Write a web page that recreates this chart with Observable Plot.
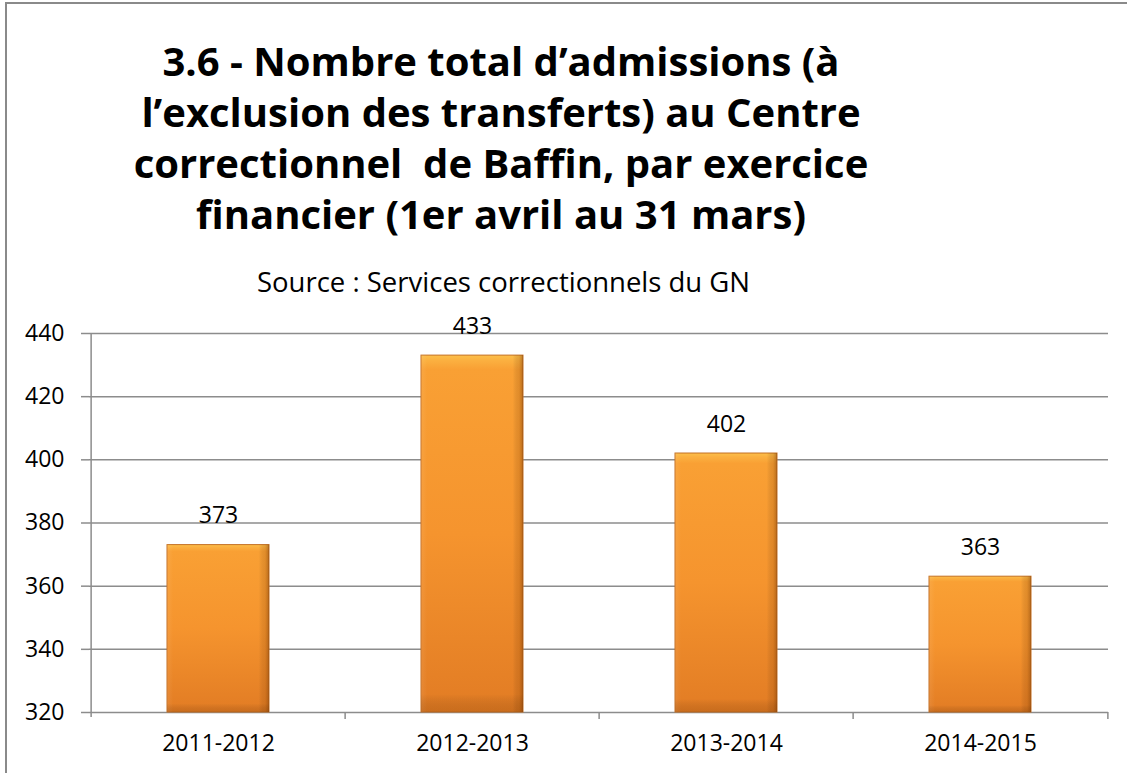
<!DOCTYPE html>
<html>
<head>
<meta charset="utf-8">
<script src="https://cdn.jsdelivr.net/npm/d3@7"></script>
<script src="https://cdn.jsdelivr.net/npm/@observablehq/plot@0.6"></script>
<style>
  html, body { margin: 0; padding: 0; background: #fff; }
  #wrap { position: relative; width: 1127px; height: 773px; overflow: hidden; font-family: "Open Sans", sans-serif; }
  #frame { position: absolute; left: 5px; top: 2px; width: 1200px; height: 900px; border-left: 2px solid #8a8a8a; border-top: 2px solid #8a8a8a; }
  #title { position: absolute; left: 0; width: 1002px; top: 35px; text-align: center; font-weight: 700; font-size: 40px; line-height: 51px; color: #000; letter-spacing: 0px; }
  #subtitle { position: absolute; left: 0; width: 1007px; top: 265px; text-align: center; font-size: 27.5px; line-height: 34px; color: #000; }
  #chart { position: absolute; left: 0; top: 300px; }
</style>
</head>
<body>
<div id="wrap">
  <div id="frame"></div>
  <div id="title">3.6 - Nombre total d’admissions (à<br>l’exclusion des transferts) au Centre<br>correctionnel&nbsp; de Baffin, par exercice<br>financier (1er avril au 31 mars)</div>
  <div id="subtitle">Source : Services correctionnels du GN</div>
  <div id="chart"></div>
</div>
<script>
const categories = ["2011-2012", "2012-2013", "2013-2014", "2014-2015"];
const admissions = [373, 433, 402, 363];
const yTicks = [320, 340, 360, 380, 400, 420, 440];

const data = categories.map((c, i) => ({category: c, value: admissions[i]}));

const width = 1127, height = 473;
const mL = 89, mR = 19, mT = 33, mB = 61;
const step = (width - mL - mR) / categories.length;
const gridColor = "#8c8c8c";

const chart = Plot.plot({
  width, height,
  marginLeft: mL, marginRight: mR, marginTop: mT, marginBottom: mB,
  style: {fontFamily: "Open Sans, sans-serif", fontSize: "23px", color: "#000", background: "transparent", overflow: "visible"},
  x: {domain: categories, paddingInner: 0.6, paddingOuter: 0.3, label: null},
  y: {domain: [320, 440], label: null},
  marks: [
    Plot.gridY(yTicks, {stroke: gridColor, strokeOpacity: 1, strokeWidth: 1.5}),
    Plot.axisY(yTicks, {tickSize: 8, tickPadding: 17, stroke: gridColor, strokeWidth: 1.5, fill: "#000", fontSize: 23, label: null}),
    Plot.axisX({tickSize: 0, tickPadding: 22, fill: "#000", fontSize: 23, label: null}),
    // left axis line
    Plot.ruleX([categories[0]], {x: d => d, dx: -step / 2, y1: 440, y2: 320, insetBottom: -5, stroke: gridColor, strokeWidth: 1.5}),
    // category boundary ticks
    Plot.ruleX(categories.slice(1), {x: d => d, dx: -step / 2, y1: 320, y2: 320, insetBottom: -7, stroke: gridColor, strokeWidth: 1.5}),
    Plot.ruleX([categories[categories.length - 1]], {x: d => d, dx: step / 2, y1: 320, y2: 320, insetBottom: -7, stroke: gridColor, strokeWidth: 1.5}),
    // bars
    Plot.barY(data, {x: "category", y1: 320, y2: "value", fill: "url(#barGrad)", stroke: "#c46f22", strokeWidth: 1}),
    Plot.barY(data, {x: "category", y1: 320, y2: "value", fill: "url(#barShade)"}),
    Plot.barY(data, {x: "category", y1: 320, y2: "value", fill: "url(#barShadeV)"}),
    Plot.text(data, {x: "category", y: "value", text: d => String(d.value), dy: -29, fill: "#000", fontSize: 23})
  ]
});

const defs = d3.select(chart).insert("defs", ":first-child");
const g1 = defs.append("linearGradient").attr("id", "barGrad").attr("x1", 0).attr("y1", 0).attr("x2", 0).attr("y2", 1);
[[0, "#fcc04a"], [0.015, "#fbb040"], [0.04, "#f9a034"], [0.5, "#f5942e"], [1, "#e27c24"]]
  .forEach(([o, c]) => g1.append("stop").attr("offset", o).attr("stop-color", c));
const g2 = defs.append("linearGradient").attr("id", "barShade").attr("x1", 0).attr("y1", 0).attr("x2", 1).attr("y2", 0);
[[0, "#ffffff", 0.08], [0.06, "#ffffff", 0.0], [0.9, "#000000", 0.0], [0.96, "#7a3a00", 0.18], [1, "#6a3000", 0.45]]
  .forEach(([o, c, a]) => g2.append("stop").attr("offset", o).attr("stop-color", c).attr("stop-opacity", a));
const g3 = defs.append("linearGradient").attr("id", "barShadeV").attr("x1", 0).attr("y1", 0).attr("x2", 0).attr("y2", 1);
[[0, "#000000", 0.0], [0.95, "#000000", 0.0], [1, "#6a3000", 0.2]]
  .forEach(([o, c, a]) => g3.append("stop").attr("offset", o).attr("stop-color", c).attr("stop-opacity", a));

document.getElementById("chart").appendChild(chart);
</script>
</body>
</html>
